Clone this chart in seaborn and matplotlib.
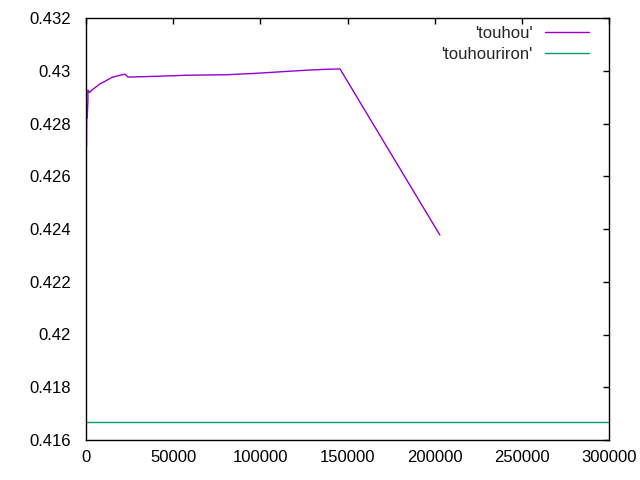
import matplotlib
matplotlib.use("Agg")
import matplotlib.pyplot as plt
import seaborn as sns
import pandas as pd

touhou_x = [300, 400, 700, 1100, 1100, 1900, 4000, 8000, 9800, 14900, 18400, 22400,
            24100, 35600, 57900, 80900, 96900, 106700, 116400, 126200, 135900, 145700, 203000]
touhou_y = [0.42712, 0.42821, 0.42821, 0.42889, 0.42927, 0.42918, 0.42930, 0.42950,
            0.42956, 0.42975, 0.42981, 0.42987, 0.42976, 0.42978, 0.42983, 0.42985,
            0.42990, 0.42994, 0.42998, 0.43002, 0.43005, 0.43007, 0.42377]
riron_x = [0, 300000]
riron_y = [0.416667, 0.416667]

x_ticks = [0, 50000, 100000, 150000, 200000, 250000, 300000]
y_ticks = [0.416, 0.418, 0.42, 0.422, 0.424, 0.426, 0.428, 0.43, 0.432]
y_labels = ["0.416", "0.418", "0.42", "0.422", "0.424", "0.426", "0.428", "0.43", "0.432"]

sns.set_style("white")
plt.rcParams['font.family'] = ['Liberation Sans', 'DejaVu Sans']

df1 = pd.DataFrame({"x": touhou_x, "y": touhou_y, "s": "'touhou'"})
df2 = pd.DataFrame({"x": riron_x, "y": riron_y, "s": "'touhouriron'"})
df = pd.concat([df1, df2], ignore_index=True)

fig = plt.figure(figsize=(6.4, 4.8), dpi=100)
ax = fig.add_axes([86/640, 1-440/480, (609-86)/640, (440-18)/480])
sns.lineplot(data=df, x="x", y="y", hue="s", estimator=None, sort=False,
             palette={"'touhou'": "#9400d3", "'touhouriron'": "#009e73"},
             linewidth=1.0, ax=ax)

ax.set_xlim(0, 300000)
ax.set_ylim(0.416, 0.432)
ax.set_xticks(x_ticks)
ax.set_xticklabels([str(v) for v in x_ticks])
ax.set_yticks(y_ticks)
ax.set_yticklabels(y_labels)
ax.set_xlabel("")
ax.set_ylabel("")
ax.tick_params(direction="in", length=4.5, width=1, top=True, right=True,
               labelsize=12, colors="black")
ax.tick_params(axis="x", pad=7)
ax.tick_params(axis="y", pad=11)
for sp in ax.spines.values():
    sp.set_color("black")
    sp.set_linewidth(1)

ax.legend(loc="upper right", frameon=False, markerfirst=False, fontsize=12,
          handlelength=2.65, handletextpad=0.75, labelspacing=0.4,
          bbox_to_anchor=(1 - 20/523, 1 - 7.5/422), borderaxespad=0, borderpad=0)

fig.savefig("out.png", dpi=100)
